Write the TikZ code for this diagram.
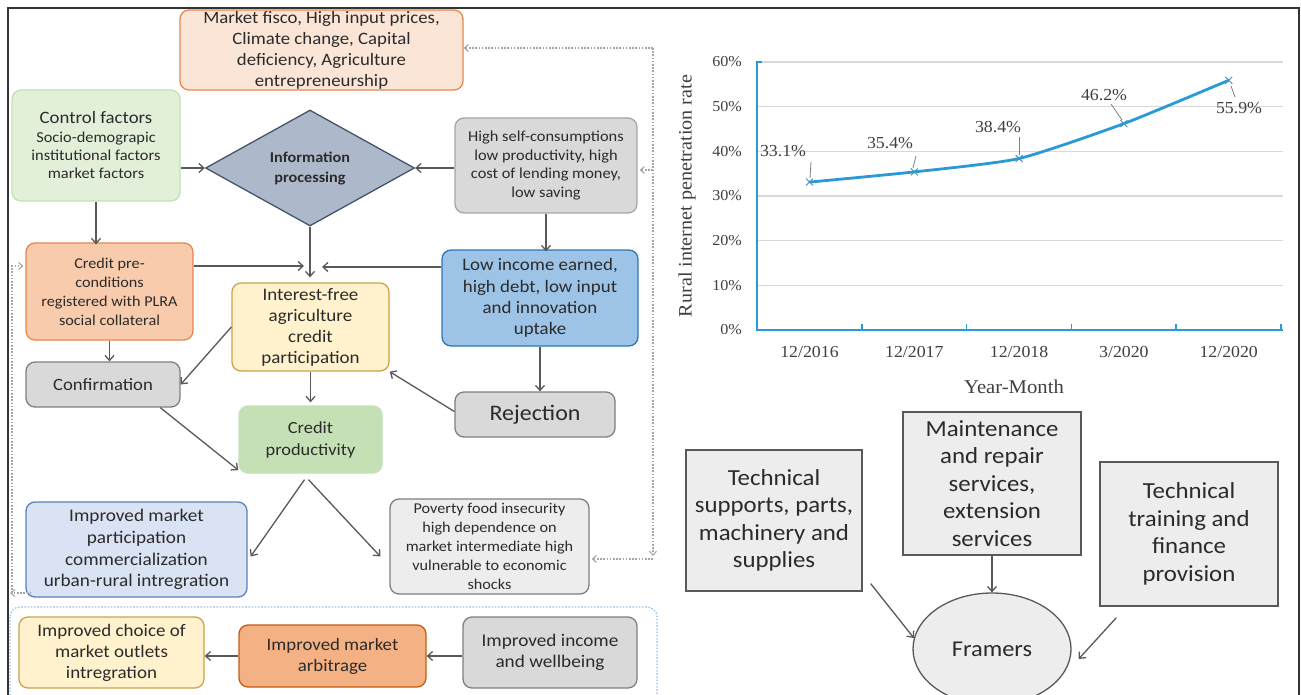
\documentclass[tikz,border=0pt]{standalone}
\usepackage{fontspec}
\setmainfont{Carlito}[FakeStretch=1.08]
\newfontfamily\chartfont{Liberation Serif}[FakeStretch=1.06]
\usetikzlibrary{arrows.meta,shapes.geometric,calc}
\newcommand{\myfs}[2]{\fontsize{#1}{#2}\selectfont}
\definecolor{txt}{HTML}{2B2B2B}
\definecolor{arrgray}{HTML}{595959}
\definecolor{dotgray}{HTML}{A6A6A6}
\definecolor{peachF}{HTML}{FBE5D6}
\definecolor{orangeB}{HTML}{E8864F}
\definecolor{ctrlF}{HTML}{E2F0D9}
\definecolor{ctrlB}{HTML}{C5E0B4}
\definecolor{diaF}{HTML}{ADB9CA}
\definecolor{diaB}{HTML}{44546A}
\definecolor{grayF}{HTML}{D9D9D9}
\definecolor{grayBl}{HTML}{A6A6A6}
\definecolor{grayB}{HTML}{7F7F7F}
\definecolor{credF}{HTML}{F8CBAD}
\definecolor{yelF}{HTML}{FFF2CC}
\definecolor{yelB}{HTML}{C9A54A}
\definecolor{lowF}{HTML}{9DC3E6}
\definecolor{lowB}{HTML}{2E75B6}
\definecolor{prodF}{HTML}{C5E0B4}
\definecolor{mktF}{HTML}{DAE3F3}
\definecolor{mktB}{HTML}{5B7FBF}
\definecolor{povF}{HTML}{EDEDED}
\definecolor{arbF}{HTML}{F4B183}
\definecolor{arbB}{HTML}{C55A11}
\definecolor{sqF}{HTML}{EDEDED}
\definecolor{sqB}{HTML}{595959}
\definecolor{cblue}{HTML}{2A9AD6}
\definecolor{gridc}{HTML}{D9D9D9}
\definecolor{ctxt}{HTML}{404040}
\definecolor{frame}{HTML}{333333}
\definecolor{bluedot}{HTML}{9DC3E6}
\tikzset{
  fbox/.style={rectangle, rounded corners=9pt, line width=1.3pt, align=center, inner sep=1pt, text=txt},
  sqbox/.style={rectangle, draw=sqB, fill=sqF, line width=1.3pt, align=center, inner sep=1pt, text=txt, font=\myfs{23}{27.5}},
  arr/.style={draw=arrgray, line width=1.3pt, -{Straight Barb[length=5pt,width=9pt]}},
  dots/.style={draw=dotgray, line width=1.1pt, dash pattern=on 1.6pt off 1.6pt},
  dtip/.style={-{Straight Barb[length=4pt,width=7pt]}},
  clab/.style={font=\chartfont\myfs{16.8}{18}, text=ctxt, inner sep=0pt},
}
\begin{document}
\begin{tikzpicture}[x=1pt,y=-1pt]
\clip (0,0) rectangle (1301,695);
\fill[white] (0,0) rectangle (1301,695);
% outer frame
\draw[frame, line width=1.5pt] (8,700) -- (8,8) -- (1299,8) -- (1299,700);

% ---------------- flowchart nodes ----------------
\node[fbox, fill=peachF, draw=orangeB, minimum width=283pt, minimum height=80pt, font=\myfs{17.4}{21}] (top) at (321.5,50)
  {Market fisco, High input prices,\\ Climate change, Capital\\ deficiency, Agriculture\\ entrepreneurship};
\node[fbox, fill=ctrlF, draw=ctrlB, minimum width=168pt, minimum height=111pt, font=\myfs{15.2}{18}] (ctrl) at (96,145.5)
  {{\myfs{17.4}{20}Control factors}\\[1pt] Socio-demograpic\\ institutional factors\\ market factors};
\node[diamond, draw=diaB, fill=diaF, line width=1.3pt, minimum width=209pt, minimum height=116pt, inner sep=0pt, align=center, text=txt, font=\bfseries\myfs{15}{20}] (dia) at (310,168)
  {Information\\ processing};
\node[fbox, fill=grayF, draw=grayBl, minimum width=182pt, minimum height=95pt, font=\myfs{15.2}{18.5}] (g1) at (546,165.5)
  {High self-consumptions\\ low productivity, high\\ cost of lending money,\\ low saving};
\node[fbox, fill=credF, draw=orangeB, minimum width=167pt, minimum height=97pt, font=\myfs{15}{19}] (cred) at (109.5,291.5)
  {Credit pre-\\ conditions\\ registered with PLRA\\ social collateral};
\node[fbox, fill=yelF, draw=yelB, minimum width=157pt, minimum height=88pt, font=\myfs{17.6}{21}] (intf) at (310.5,327)
  {Interest-free\\ agriculture\\ credit\\ participation};
\node[fbox, fill=lowF, draw=lowB, minimum width=196pt, minimum height=96pt, font=\myfs{17.5}{21.3}] (low) at (540,298)
  {Low income earned,\\ high debt, low input\\ and innovation\\ uptake};
\node[fbox, fill=grayF, draw=grayB, minimum width=154pt, minimum height=45pt, font=\myfs{17.3}{20}] (conf) at (103,384.5) {Confirmation};
\node[fbox, fill=grayF, draw=grayB, minimum width=160pt, minimum height=45pt, font=\myfs{22.2}{24}] (rej) at (535,414.5) {Rejection};
\node[fbox, fill=prodF, draw=prodF, minimum width=143pt, minimum height=67pt, font=\myfs{17}{22}] (prod) at (310.5,439.5)
  {Credit\\ productivity};
\node[fbox, fill=mktF, draw=mktB, minimum width=221pt, minimum height=95pt, font=\myfs{17.8}{21.7}] (mkt) at (136.5,549.5)
  {Improved market\\ participation\\ commercialization\\ urban-rural intregration};
\node[fbox, fill=povF, draw=grayB, minimum width=199pt, minimum height=95pt, font=\myfs{15}{19}] (pov) at (489.5,546.5)
  {Poverty food insecurity\\ high dependence on\\ market intermediate high\\ vulnerable to economic\\ shocks};
\node[fbox, fill=yelF, draw=yelB, minimum width=185pt, minimum height=71pt, font=\myfs{17.6}{21}] (choice) at (111.5,652.5)
  {Improved choice of\\ market outlets\\ intregration};
\node[fbox, fill=arbF, draw=arbB, minimum width=187pt, minimum height=62pt, font=\myfs{17.4}{21}] (arb) at (332.5,656)
  {Improved market\\ arbitrage};
\node[fbox, fill=grayF, draw=grayB, minimum width=174pt, minimum height=71pt, font=\myfs{17.8}{21}] (inc) at (550,652.5)
  {Improved income\\ and wellbeing};

% blue dotted group
\draw[bluedot, line width=1.3pt, dash pattern=on 1.6pt off 1.6pt, rounded corners=10pt] (10,607) rectangle (657,730);

% ---------------- flowchart connectors ----------------
\coordinate (jl) at (304,266);
\coordinate (jr) at (322,267);
\draw[arr] (ctrl.east |- dia.west) -- (dia.west);
\draw[arr] (g1.west |- dia.east) -- (dia.east);
\draw[arr] (ctrl.south) -- ([yshift=-2pt]ctrl.south |- cred.north);
\draw[arr, shorten >=5pt] (dia.south) -- (dia.south |- intf.north);
\draw[arr] (cred.east |- jl) -- (jl);
\draw[arr] (low.west |- jr) -- (jr);
\draw[arr] (g1.south) -- ([yshift=-2pt]g1.south |- low.north);
\draw[arr] (cred.south) -- (cred.south |- conf.north);
\draw[arr] (intf.west) -- (conf.east);
\draw[arr, shorten >=3pt] (intf.south) -- (intf.south |- prod.north);
\draw[arr] (low.south) -- (low.south |- rej.north);
\draw[arr] ([yshift=3pt]rej.west) -- (intf.south east);
\draw[arr] (conf.-22) -- (prod.203);
\draw[arr] ($(prod.south)+(-6,6)$) -- ($(mkt.east)+(3,7)$);
\draw[arr] ($(prod.south)+(-2,6)$) -- ($(pov.west)+(-9,10)$);
\draw[arr] (inc.west |- arb.east) -- (arb.east);
\draw[arr] (arb.west) -- (arb.west -| choice.east);

% dotted feedback lines
\coordinate (dtop) at (653,48);
\coordinate (dbot) at (653,556);
\draw[dots, dtip] (dtop) -- (top.east |- dtop);
\draw[dots, dtip] (dtop) -- (dbot);
\draw[dots, dtip] (653,559) -- ($(pov.east |- dbot)+(2,3)$);
\draw[dots, dtip] (653,170) -- ($(g1.east)+(2,4.5)$);
\draw[dots, dtip] (12,593) -- (12,266) -- ($(cred.west |- 0,266)+(-2,0)$);
\draw[dots, dtip] ($(mkt.west |- 0,593)+(6,0)$) -- (10,593);

% ---------------- chart ----------------
\foreach \k in {1,...,6} \draw[gridc, line width=1.2pt] (757,{330-\k*44.667}) -- (1283,{330-\k*44.667});
\draw[cblue, line width=1.6pt] (762,62) -- (757,62) -- (757,330) -- (1283,330);
\foreach \i in {0,...,5} \draw[cblue, line width=1.6pt] ({757+\i*104.8},330) -- ({757+\i*104.8},324);
\foreach \v in {0,...,6} {
  \pgfmathtruncatemacro\lab{\v*10}
  \node[clab, anchor=east, font=\chartfont\myfs{15.2}{17}] at (742,{330-\v*44.667}) {\lab\%};
}
\foreach \t [count=\i from 0] in {12/2016,12/2017,12/2018,3/2020,12/2020}
  \node[clab] at ({809.5+\i*104.8},352) {\t};
\node[clab, font=\chartfont\myfs{19.5}{21}] (xt) at (1014,387) {Year-Month};
\node[clab, rotate=90, font=\chartfont\myfs{19}{20}] (yt) at (687,196) {Rural internet penetration rate};
\draw[cblue, line width=2.8pt, line join=round] plot[smooth, tension=0.35] coordinates
  {(809.5,182.1) (914.3,171.9) (1019.1,158.5) (1123.9,123.6) (1228.7,80.3)};
\foreach \px/\py in {809.5/182.1, 914.3/171.9, 1019.1/158.5, 1123.9/123.6, 1228.7/80.3}
  \draw[cblue!70!gray, line width=0.9pt] (\px-3.5,\py-3.5) -- (\px+3.5,\py+3.5) (\px-3.5,\py+3.5) -- (\px+3.5,\py-3.5);
\node[clab] (l1) at (783,151) {33.1\%};
\node[clab] (l2) at (890,143) {35.4\%};
\node[clab] (l3) at (998,127) {38.4\%};
\node[clab] (l4) at (1104,95) {46.2\%};
\node[clab] (l5) at (1239,108) {55.9\%};
\draw[gray, line width=0.8pt] (811,162) -- (810,178);
\draw[gray, line width=0.8pt] (916,156) -- (913,168);
\draw[gray, line width=0.8pt] (1019,137) -- (1019,155);
\draw[gray, line width=0.8pt] (1111,104) -- (1122,120);
\draw[gray, line width=0.8pt] (1231,86) -- (1235,97);

% ---------------- right diagram ----------------
\node[sqbox, minimum width=176pt, minimum height=141pt] (tech) at (774,520.5)
  {Technical\\ supports, parts,\\ machinery and\\ supplies};
\node[sqbox, minimum width=178pt, minimum height=143pt] (maint) at (992,483.5)
  {Maintenance\\ and repair\\ services,\\ extension\\ services};
\node[sqbox, minimum width=178pt, minimum height=144pt] (train) at (1189,534)
  {Technical\\ training and\\ finance\\ provision};
\node[ellipse, draw=sqB, fill=sqF, line width=1.3pt, minimum width=158pt, minimum height=112pt, inner sep=0pt, text=txt, font=\myfs{22.6}{24}] (farm) at (992,649) {Framers};
\draw[arr] (maint.south) -- (farm.north);
\draw[arr] ($(tech.south east)+(8,-8)$) -- (farm.172);
\draw[arr] ($(train.south west)+(17,11)$) -- ($(farm.east)+(7,10)$);
\end{tikzpicture}
\end{document}
